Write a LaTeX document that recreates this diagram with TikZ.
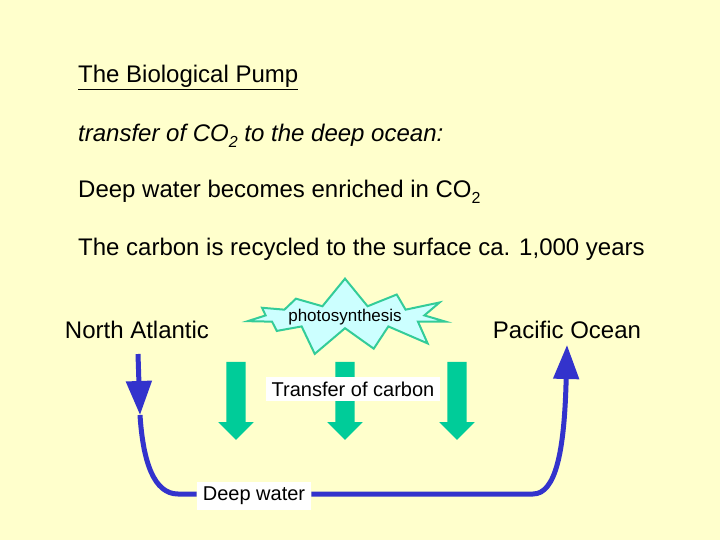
\documentclass[tikz,border=0pt]{standalone}
\usepackage{fontspec}
\setmainfont{Liberation Sans}
\usetikzlibrary{arrows.meta,shapes.arrows,shapes.symbols,positioning}
\definecolor{paper}{HTML}{FFFFCC}
\definecolor{sinkgreen}{HTML}{00CC99}
\definecolor{burstfill}{HTML}{CCFFFF}
\definecolor{burstline}{HTML}{33CC99}
\definecolor{flowblue}{HTML}{3333CC}
\newcommand{\lowtwo}{\raisebox{-0.45ex}{\fontsize{16}{18}\selectfont 2}}

\begin{document}
\begin{tikzpicture}[x=1pt,y=-1pt,
    txt/.style={anchor=base west,inner sep=0pt,font=\fontsize{24}{28}\selectfont},
    ocean/.style={inner sep=0pt,font=\fontsize{24}{28}\selectfont},
    carrow/.style={single arrow,fill=sinkgreen,draw=none,minimum width=35pt,
        single arrow head extend=8pt,minimum height=78pt,shape border rotate=270,inner sep=9.5pt},
    whitebox/.style={fill=white,inner xsep=6pt,inner ysep=5pt,font=\fontsize{20}{22}\selectfont},
    flow/.style={draw=flowblue,line width=5pt},
    flowtip/.style={-{Triangle[width=25pt,length=34pt]}}]
\fill[paper] (0,0) rectangle (720,540);
\node[txt] (title) at (78,83) {\underline{The Biological Pump}};
\node[txt] (transfer) at (78,142) {\itshape transfer of CO\lowtwo{} to the deep ocean:};
\node[txt] (enrich) at (78,198) {Deep water becomes enriched in CO\lowtwo};
\node[txt] (recycle) at (78,255) {The carbon is recycled to the surface ca. 1,000 years};
\node[ocean] (natl) at (137,330) {North Atlantic};
\node[ocean] (pac) at (567,330) {Pacific Ocean};
\node[starburst,fill=burstfill,draw=burstline,line width=2pt,minimum width=200pt,minimum height=80pt,
    starburst points=11,starburst point height=30pt,random starburst=7,inner sep=0pt,
    font=\fontsize{17}{19}\selectfont] (photo) at (345,317) {photosynthesis};
\node[carrow] (sinkl) at (236,396) {};
\node[carrow] (sinkm) at (345,396) {};
\node[carrow] (sinkr) at (457,396) {};
\node[whitebox] (carbon) at (353,389) {Transfer of carbon};
\node[whitebox] (deep) at (254,496) {Deep water};
\coordinate (nastart) at (138,354);
\coordinate (nahead) at (140,415);
\coordinate (pacend) at (567,345);
\draw[flow,flowtip] (nastart) -- (nahead);
\draw[flow] (nahead) .. controls (143,462) and (154,494) .. (178,494) -- (deep.west |- 0,494);
\draw[flow,flowtip] (deep.east |- 0,494) -- (533,494) .. controls (556,494) and (564,450) .. (566,385) -- (pacend);
\end{tikzpicture}
\end{document}
